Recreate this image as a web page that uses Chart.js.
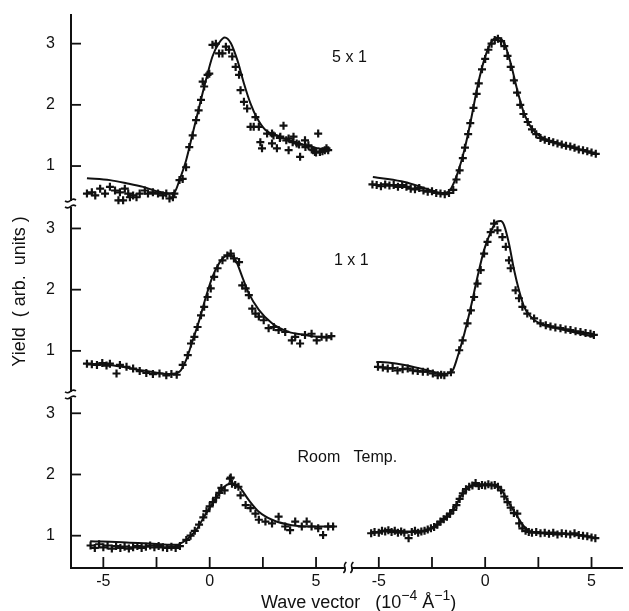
<!DOCTYPE html>
<html>
<head>
<meta charset="utf-8">
<script src="https://cdn.jsdelivr.net/npm/chart.js@4.4.1/dist/chart.umd.min.js"></script>
<style>
  body { margin: 0; background: #fff; }
  canvas { display: block; }
</style>
</head>
<body>
<canvas id="chart" width="629" height="611"></canvas>
<script>
// panel values, in each panel's own units (x in 1e-4 1/A, y in arb. units)
const topLeftFit = [[-5.77,0.80],[-4.69,0.77],[-3.91,0.72],[-3.13,0.66],[-2.51,0.59],[-1.89,0.55],[-1.66,0.57],[-1.42,0.77],[-1.11,1.09],[-0.80,1.53],[-0.49,1.97],[-0.18,2.40],[0.13,2.79],[0.44,3.01],[0.71,3.10],[0.99,3.01],[1.30,2.73],[1.61,2.35],[1.92,2.02],[2.23,1.78],[2.62,1.59],[3.24,1.49],[3.86,1.41],[4.48,1.34],[5.10,1.29],[5.65,1.25]];
const topLeftData = [[-5.77,0.55],[-5.54,0.57],[-5.38,0.52],[-5.15,0.63],[-4.92,0.55],[-4.69,0.66],[-4.45,0.60],[-4.22,0.57],[-3.99,0.63],[-3.83,0.55],[-3.60,0.52],[-4.29,0.44],[-4.07,0.44],[-3.75,0.49],[-3.44,0.49],[-3.29,0.55],[-3.05,0.60],[-2.90,0.55],[-2.67,0.57],[-2.43,0.55],[-2.20,0.52],[-2.04,0.55],[-1.89,0.47],[-1.73,0.49],[-1.66,0.55],[-1.42,0.77],[-1.27,0.79],[-1.11,0.98],[-0.96,1.31],[-0.80,1.50],[-0.64,1.75],[-0.52,1.91],[-0.41,2.08],[-0.26,2.30],[-0.33,2.38],[-0.10,2.49],[-0.02,2.51],[0.13,2.98],[0.29,3.00],[0.44,2.84],[0.60,2.84],[0.76,2.95],[0.91,2.90],[1.06,2.79],[1.22,2.62],[1.38,2.49],[1.45,2.24],[1.61,2.05],[1.76,1.94],[1.92,1.64],[2.15,1.80],[2.07,1.64],[2.31,1.64],[2.38,1.39],[2.46,1.29],[2.70,1.53],[2.93,1.53],[2.93,1.37],[3.16,1.29],[3.32,1.48],[3.47,1.66],[3.71,1.45],[3.71,1.26],[3.94,1.48],[4.09,1.37],[4.25,1.15],[4.48,1.42],[4.64,1.34],[4.87,1.26],[4.95,1.23],[5.10,1.53],[5.18,1.23],[5.41,1.26],[5.49,1.29],[5.57,1.26],[3.0,1.50],[3.3,1.46],[3.6,1.42],[3.9,1.39],[4.2,1.35],[4.5,1.31],[4.8,1.27],[5.0,1.22],[5.3,1.24]];

const topRightFit = [[-5.28,0.82],[-4.58,0.79],[-3.79,0.74],[-3.02,0.66],[-2.23,0.57],[-1.92,0.56],[-1.61,0.63],[-1.30,0.88],[-0.98,1.26],[-0.67,1.75],[-0.36,2.30],[-0.05,2.73],[0.26,3.01],[0.58,3.10],[0.89,3.01],[1.20,2.68],[1.51,2.24],[1.83,1.86],[2.14,1.64],[2.60,1.48],[3.23,1.39],[4.01,1.31],[4.64,1.25],[5.26,1.19]];
const topRightData = [[-5.3,0.70],[-5.1,0.69],[-4.9,0.67],[-4.7,0.70],[-4.5,0.68],[-4.3,0.69],[-4.1,0.66],[-3.9,0.69],[-3.7,0.66],[-3.5,0.63],[-3.3,0.62],[-3.1,0.64],[-2.9,0.60],[-2.7,0.58],[-2.5,0.59],[-2.3,0.56],[-2.1,0.55],[-1.9,0.54],[-1.7,0.56],[-1.5,0.61],[-1.35,0.78],[-1.2,0.93],[-1.05,1.13],[-0.95,1.30],[-0.8,1.52],[-0.7,1.70],[-0.55,1.95],[-0.4,2.18],[-0.3,2.35],[-0.15,2.58],[0.0,2.75],[0.15,2.90],[0.3,3.00],[0.45,3.06],[0.6,3.08],[0.75,3.04],[0.9,2.96],[1.05,2.80],[1.2,2.62],[1.35,2.40],[1.5,2.20],[1.65,2.00],[1.8,1.85],[2.0,1.72],[2.2,1.60],[2.4,1.52],[2.6,1.46],[2.8,1.43],[3.0,1.41],[3.2,1.39],[3.4,1.37],[3.6,1.35],[3.8,1.33],[4.0,1.32],[4.2,1.30],[4.4,1.27],[4.6,1.26],[4.8,1.24],[5.0,1.22],[5.2,1.20]];

const midLeftFit = [[-5.77,0.79],[-4.69,0.77],[-3.13,0.68],[-1.89,0.62],[-1.42,0.66],[-1.11,0.85],[-0.80,1.17],[-0.49,1.50],[-0.18,1.88],[0.13,2.21],[0.44,2.43],[0.76,2.55],[0.99,2.56],[1.22,2.48],[1.53,2.21],[1.84,1.94],[2.31,1.67],[2.93,1.45],[3.71,1.31],[4.48,1.26],[5.10,1.23],[5.72,1.22]];
const midLeftData = [[-5.77,0.79],[-5.54,0.78],[-5.30,0.77],[-5.05,0.80],[-4.85,0.76],[-4.69,0.79],[-4.38,0.63],[-4.22,0.77],[-3.91,0.74],[-3.60,0.71],[-3.29,0.67],[-2.98,0.64],[-2.67,0.62],[-2.36,0.63],[-2.04,0.60],[-1.80,0.62],[-1.55,0.61],[-1.27,0.77],[-1.03,0.93],[-0.88,1.12],[-0.72,1.23],[-0.57,1.39],[-0.41,1.58],[-0.26,1.72],[-0.10,1.88],[0.05,2.02],[0.21,2.21],[0.37,2.35],[0.60,2.48],[0.83,2.56],[0.99,2.59],[1.14,2.51],[1.38,2.45],[1.53,2.07],[1.69,2.02],[1.84,1.91],[2.00,1.69],[2.15,1.61],[2.31,1.56],[2.54,1.50],[2.77,1.37],[3.01,1.39],[3.24,1.34],[3.55,1.31],[3.86,1.17],[4.02,1.23],[4.25,1.12],[4.48,1.26],[4.79,1.28],[5.03,1.17],[5.26,1.23],[5.49,1.22],[5.72,1.24]];

const midRightFit = [[-5.12,0.82],[-4.58,0.81],[-3.79,0.77],[-3.02,0.71],[-2.23,0.64],[-1.92,0.62],[-1.53,0.68],[-1.30,0.90],[-0.98,1.28],[-0.67,1.72],[-0.36,2.21],[-0.05,2.65],[0.26,2.94],[0.54,3.11],[0.73,3.12],[0.89,3.05],[1.12,2.75],[1.36,2.32],[1.59,1.99],[1.83,1.72],[2.14,1.56],[2.60,1.44],[3.39,1.37],[4.32,1.29],[5.11,1.23]];
const midRightData = [[-5.04,0.74],[-4.81,0.73],[-4.58,0.71],[-4.35,0.72],[-4.12,0.68],[-3.88,0.70],[-3.64,0.71],[-3.40,0.68],[-3.17,0.67],[-2.93,0.66],[-2.70,0.66],[-2.46,0.63],[-2.23,0.60],[-2.07,0.61],[-1.92,0.60],[-1.61,0.65],[-1.22,1.01],[-1.06,1.17],[-0.83,1.45],[-0.67,1.66],[-0.52,1.88],[-0.36,2.10],[-0.21,2.32],[-0.05,2.59],[0.11,2.78],[0.26,2.94],[0.42,3.08],[0.58,2.97],[0.81,2.86],[0.97,2.70],[1.12,2.48],[1.20,2.35],[1.43,1.99],[1.59,1.86],[1.75,1.72],[1.98,1.61],[2.30,1.53],[2.60,1.45],[2.85,1.42],[3.07,1.40],[3.30,1.38],[3.54,1.37],[3.78,1.35],[4.01,1.34],[4.25,1.32],[4.48,1.31],[4.72,1.29],[4.95,1.28],[5.11,1.26]];

const botLeftFit = [[-5.62,0.91],[-3.91,0.89],[-2.35,0.86],[-1.58,0.85],[-1.11,0.93],[-0.64,1.09],[-0.18,1.36],[0.29,1.61],[0.68,1.80],[0.99,1.85],[1.38,1.80],[1.84,1.58],[2.31,1.39],[2.93,1.26],[3.86,1.17],[4.79,1.15],[5.88,1.15]];
const botLeftData = [[-5.6,0.84],[-5.4,0.80],[-5.2,0.86],[-5.0,0.81],[-4.8,0.84],[-4.6,0.79],[-4.4,0.83],[-4.2,0.80],[-4.0,0.82],[-3.8,0.79],[-3.6,0.81],[-3.4,0.83],[-3.2,0.80],[-3.0,0.82],[-2.8,0.84],[-2.6,0.81],[-2.4,0.83],[-2.2,0.81],[-2.0,0.80],[-1.8,0.82],[-1.6,0.80],[-1.4,0.83],[-1.1,0.93],[-0.9,1.00],[-0.7,1.08],[-0.5,1.18],[-0.3,1.30],[-0.15,1.40],[0.0,1.48],[0.15,1.55],[0.3,1.62],[0.45,1.70],[0.55,1.78],[0.7,1.74],[0.95,1.93],[0.99,1.95],[1.05,1.85],[1.2,1.83],[1.35,1.80],[1.45,1.66],[1.69,1.50],[1.92,1.45],[2.15,1.36],[2.31,1.26],[2.62,1.23],[2.93,1.20],[3.24,1.31],[3.55,1.15],[3.78,1.09],[4.02,1.23],[4.33,1.15],[4.56,1.23],[4.79,1.15],[5.10,1.12],[5.33,1.01],[5.57,1.15],[5.80,1.15]];

const botRightFit = [[-5.36,1.04],[-4.58,1.09],[-3.79,1.07],[-3.02,1.07],[-2.39,1.15],[-1.92,1.28],[-1.45,1.45],[-1.06,1.69],[-0.67,1.81],[-0.21,1.84],[0.42,1.82],[0.73,1.77],[1.04,1.58],[1.43,1.36],[1.83,1.15],[2.14,1.07],[2.76,1.04],[3.39,1.03],[4.01,1.03],[4.64,1.00],[5.18,0.96]];
const botRightData = [[-5.36,1.04],[-5.2,1.06],[-5.0,1.05],[-4.85,1.08],[-4.7,1.07],[-4.55,1.09],[-4.4,1.06],[-4.25,1.08],[-4.1,1.05],[-3.95,1.07],[-3.8,1.05],[-3.6,0.96],[-3.45,1.06],[-3.3,1.08],[-3.15,1.05],[-3.0,1.07],[-2.85,1.08],[-2.7,1.10],[-2.55,1.12],[-2.4,1.14],[-2.25,1.18],[-2.1,1.23],[-1.95,1.27],[-1.8,1.31],[-1.65,1.36],[-1.5,1.42],[-1.35,1.50],[-1.2,1.60],[-1.05,1.69],[-0.9,1.76],[-0.75,1.80],[-0.6,1.82],[-0.45,1.86],[-0.3,1.81],[-0.15,1.83],[0.0,1.82],[0.15,1.84],[0.3,1.82],[0.45,1.83],[0.6,1.80],[0.75,1.74],[0.9,1.64],[1.05,1.55],[1.2,1.46],[1.35,1.37],[1.51,1.36],[1.6,1.20],[1.75,1.12],[1.9,1.08],[2.05,1.06],[2.2,1.05],[2.4,1.06],[2.6,1.04],[2.8,1.05],[3.0,1.03],[3.2,1.05],[3.4,1.02],[3.6,1.04],[3.8,1.03],[4.0,1.02],[4.2,1.04],[4.4,1.01],[4.6,1.00],[4.8,0.99],[5.0,0.97],[5.18,0.96]];

// stacking of the three panels on one broken axis
const panelOffsets = [6.04, 3.02, 0];          // top, middle, bottom
const rightSegmentOffset = 12.95;              // right-hand x segment sits after the break
const panelLabels = ['5 x 1', '1 x 1', 'Room   Temp.'];
const panelLabelX = [6.57, 6.66, 6.47];
const panelLabelY = [2.77, 2.48, 2.28];        // in panel units

const yTickValues = [1, 2, 3, 4.02, 5.02, 6.02, 7.04, 8.04, 9.04];
const yTickLabels = ['1', '2', '3', '1', '2', '3', '1', '2', '3'];
const xTickValues = [-5, -2.5, 0, 2.5, 5, 7.95, 10.45, 12.95, 15.45, 17.95];
const xTickLabels = ['-5', '', '0', '', '5', '-5', '', '0', '', '5'];
const yBreaks = [3.30, 6.42];
const xBreak = 6.52;

const ink = '#111';
const fontFamily = "'Liberation Sans', Arial, sans-serif";

function place(points, dx, dy) {
    return points.map(p => ({x: p[0] + dx, y: p[1] + dy}));
}

function fitDataset(points, dx, dy) {
    return {
        data: place(points, dx, dy),
        showLine: true,
        borderColor: ink,
        borderWidth: 2,
        pointRadius: 0,
        cubicInterpolationMode: 'monotone',
        order: 2
    };
}

function crossDataset(points, dx, dy) {
    return {
        data: place(points, dx, dy),
        showLine: false,
        pointStyle: 'cross',
        pointRadius: 4,
        borderColor: ink,
        borderWidth: 2.2,
        order: 1
    };
}

const panels = [
    [topLeftFit, topLeftData, topRightFit, topRightData],
    [midLeftFit, midLeftData, midRightFit, midRightData],
    [botLeftFit, botLeftData, botRightFit, botRightData]
];

let datasets = [];
panels.forEach((p, i) => {
    let dy = panelOffsets[i];
    datasets.push(fitDataset(p[0], 0, dy));
    datasets.push(crossDataset(p[1], 0, dy));
    datasets.push(fitDataset(p[2], rightSegmentOffset, dy));
    datasets.push(crossDataset(p[3], rightSegmentOffset, dy));
});

function squiggle(ctx, x0, y0, x1, y1, amp) {
    // small s-shaped stroke from (x0,y0) to (x1,y1)
    let mx = (x0 + x1) / 2, my = (y0 + y1) / 2;
    let nx = -(y1 - y0), ny = (x1 - x0);
    let len = Math.hypot(nx, ny);
    nx = nx / len * amp; ny = ny / len * amp;
    ctx.beginPath();
    ctx.moveTo(x0, y0);
    ctx.quadraticCurveTo((x0 + mx) / 2 + nx, (y0 + my) / 2 + ny, mx, my);
    ctx.quadraticCurveTo((mx + x1) / 2 - nx, (my + y1) / 2 - ny, x1, y1);
    ctx.stroke();
}

// draws text pieces on one line, pieces given as [string, isSuperscript]
function drawRichText(ctx, pieces, cx, baseline, size) {
    let widths = pieces.map(p => {
        ctx.font = (p[1] ? Math.round(size * 0.78) : size) + 'px ' + fontFamily;
        return ctx.measureText(p[0]).width;
    });
    let total = widths.reduce((a, b) => a + b, 0);
    let px = cx - total / 2;
    ctx.textAlign = 'left';
    ctx.textBaseline = 'alphabetic';
    pieces.forEach((p, i) => {
        ctx.font = (p[1] ? Math.round(size * 0.78) : size) + 'px ' + fontFamily;
        ctx.fillText(p[0], px, p[1] ? baseline - size * 0.45 : baseline);
        px += widths[i];
    });
}

const xTitlePieces = [['Wave vector   (10', false], ['\u22124', true], [' Å', false], ['\u22121', true], [')', false]];
const yTitle = 'Yield  ( arb.  units )';

const decorations = {
    id: 'decorations',
    afterDraw(chart) {
        const {ctx, chartArea} = chart;
        const x = chart.scales.x, y = chart.scales.y;
        ctx.save();
        ctx.strokeStyle = ink;
        ctx.lineWidth = 1.8;
        ctx.lineCap = 'butt';

        // inward tick marks
        yTickValues.forEach(v => {
            let py = y.getPixelForValue(v);
            ctx.beginPath();
            ctx.moveTo(chartArea.left, py);
            ctx.lineTo(chartArea.left + 10, py);
            ctx.stroke();
        });
        xTickValues.forEach(v => {
            let px = x.getPixelForValue(v);
            ctx.beginPath();
            ctx.moveTo(px, chartArea.bottom);
            ctx.lineTo(px, chartArea.bottom - 11);
            ctx.stroke();
        });

        // axis breaks
        ctx.lineWidth = 1.6;
        yBreaks.forEach(v => {
            let py = y.getPixelForValue(v);
            let ax = chartArea.left;
            ctx.fillStyle = '#fff';
            ctx.fillRect(ax - 3, py - 3, 6, 6);
            squiggle(ctx, ax - 6, py - 3, ax + 5, py - 4, 2.2);
            squiggle(ctx, ax - 6, py + 3, ax + 5, py + 2, 2.2);
        });
        let bx = x.getPixelForValue(xBreak);
        let ay = chartArea.bottom;
        ctx.fillStyle = '#fff';
        ctx.fillRect(bx - 3, ay - 3, 6, 6);
        squiggle(ctx, bx - 5, ay + 5, bx - 2, ay - 6, 2);
        squiggle(ctx, bx + 2, ay + 5, bx + 5, ay - 6, 2);

        // panel labels
        ctx.fillStyle = ink;
        ctx.font = '16px ' + fontFamily;
        ctx.textAlign = 'center';
        ctx.textBaseline = 'middle';
        panelLabels.forEach((t, i) => {
            ctx.fillText(t, x.getPixelForValue(panelLabelX[i]),
                y.getPixelForValue(panelLabelY[i] + panelOffsets[i]));
        });

        // x-axis title with superscripts
        drawRichText(ctx, xTitlePieces, x.getPixelForValue(7.0), chartArea.bottom + 40, 18);

        // y-axis title
        ctx.font = '18px ' + fontFamily;
        ctx.textAlign = 'center';
        ctx.textBaseline = 'middle';
        ctx.translate(chartArea.left - 51, (chartArea.top + chartArea.bottom) / 2);
        ctx.rotate(-Math.PI / 2);
        ctx.fillText(yTitle, 0, 0);
        ctx.restore();
    }
};

Chart.defaults.font.family = fontFamily;
Chart.defaults.color = ink;

const ctx = document.getElementById('chart').getContext('2d');
window.chart = new Chart(ctx, {
    type: 'scatter',
    data: {datasets: datasets},
    plugins: [decorations],
    options: {
        responsive: false,
        animation: false,
        devicePixelRatio: 1,
        layout: {padding: {left: 0, right: 3, top: 15, bottom: 0}},
        plugins: {
            legend: {display: false},
            tooltip: {enabled: false}
        },
        scales: {
            x: {
                type: 'linear',
                min: -6.52,
                max: 19.42,
                afterBuildTicks: scale => { scale.ticks = xTickValues.map(v => ({value: v})); },
                afterFit: scale => {
                    scale.height = 43;
                    scale.paddingLeft = 0;
                    scale.paddingRight = 0;
                },
                ticks: {
                    autoSkip: false,
                    maxRotation: 0,
                    padding: 4,
                    font: {size: 16},
                    callback: (v, i) => xTickLabels[i]
                },
                grid: {drawOnChartArea: false, drawTicks: false},
                border: {display: true, color: ink, width: 2}
            },
            y: {
                type: 'linear',
                min: 0.472,
                max: 9.508,
                afterBuildTicks: scale => { scale.ticks = yTickValues.map(v => ({value: v})); },
                afterFit: scale => {
                    scale.width = 71;
                    scale.paddingTop = 0;
                    scale.paddingBottom = 0;
                },
                ticks: {
                    autoSkip: false,
                    padding: 16,
                    font: {size: 16},
                    callback: (v, i) => yTickLabels[i]
                },
                grid: {drawOnChartArea: false, drawTicks: false},
                border: {display: true, color: ink, width: 2}
            }
        }
    }
});
</script>
</body>
</html>
